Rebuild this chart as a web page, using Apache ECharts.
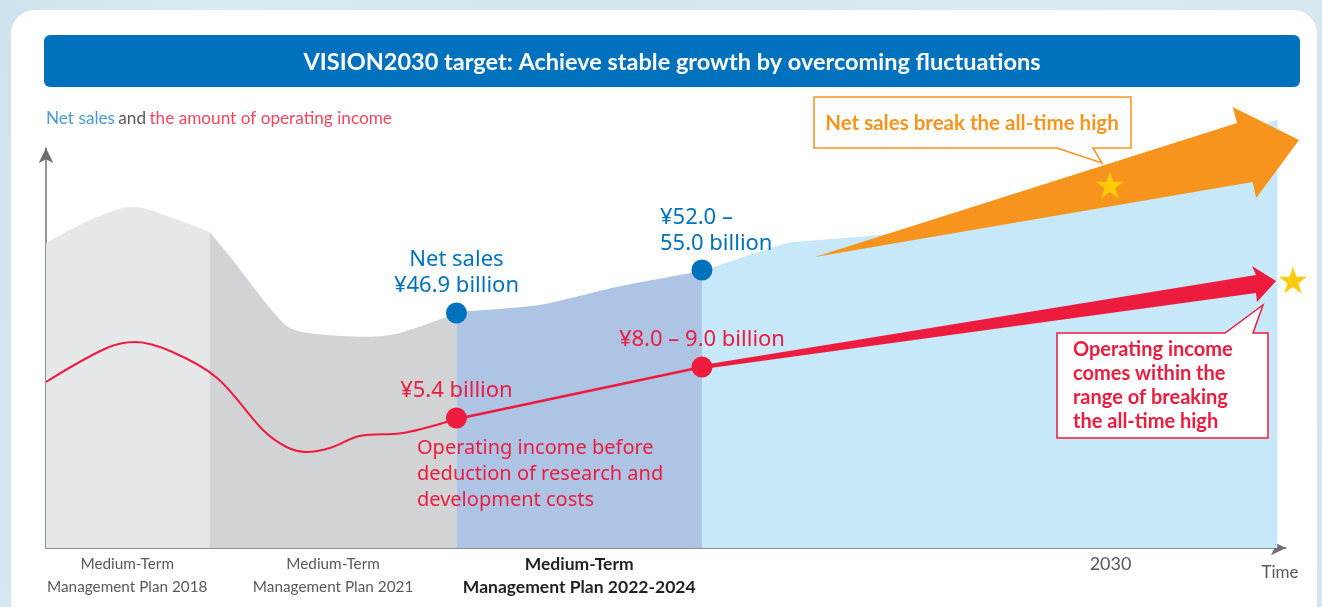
<!DOCTYPE html>
<html>
<head>
<meta charset="utf-8">
<script src="https://cdn.jsdelivr.net/npm/echarts@6/dist/echarts.min.js"></script>
<style>
html,body{margin:0;padding:0;}
body{background:linear-gradient(100deg,#cfe3ec 0%,#d9ecf2 15%,#d3e5ed 40%,#dceaf1 70%,#d5e6ee 100%);}
#chart{width:1322px;height:607px;}
</style>
</head>
<body>
<div id="chart"></div>
<script>
// ---- data (x: time index 0..100, y: relative level 0..100) ----
const periodLabels = ['Medium-Term\nManagement Plan 2018', 'Medium-Term\nManagement Plan 2021', 'Medium-Term\nManagement Plan 2022-2024', '2030'];
const periodPos = [6.55, 23.15, 43.0, 85.85];

const sales2018 = [[0, 76.25], [4.1, 82.75], [7.0, 85.25], [10.0, 82.75], [13.2, 79]];
const sales2021 = [[13.2, 79], [14.8, 73], [19.2, 56], [21.0, 53.8], [26.0, 52.8], [28.6, 53.8], [33.1, 58.75]];
const sales2024 = [[33.1, 59], [39.8, 60.75], [46.0, 65.25], [52.9, 69.25]];
const salesVision = [[52.9, 69.25], [59.8, 76.25], [62.4, 77], [68.6, 79], [99.3, 107]];

const incomeHistory = [[0, 41.5], [4.9, 50], [7.2, 51.5], [10.2, 49], [13.8, 42.5], [17.5, 29.5], [19.4, 25.25], [21.0, 24], [22.9, 25], [25.3, 28], [28.8, 28.75], [33.1, 32.25]];
const incomePlan = [[33.1, 32.25], [52.9, 45.25]];

const salesPoints = [[33.1, 58.75], [52.9, 69.5]];
const salesLabels = ['Net sales\n¥46.9 billion', '¥52.0 –\n55.0 billion'];
const incomePoints = [[33.1, 32.5], [52.9, 45.25]];
const incomeLabels = ['¥5.4 billion', '¥8.0 – 9.0 billion'];

const salesArrow = [[62.0, 72.75], [96.05, 106.25], [95.7, 110.25], [101.05, 102], [97.6, 87.5], [97.3, 91.5]];
const incomeArrow = [[52.98, 45.75], [97.58, 68.25], [97.26, 70.5], [99.2, 66.75], [97.66, 61.5], [97.58, 63.75], [52.98, 44.75]];
const starPoints = [[85.8, 90.75], [100.56, 67]];

// ---- styles ----
const RED = '#ED1B3E', BLUE = '#0071BC', ORANGE = '#F7941D';
const STAR = 'path://M50,0 L61.8,35.1 L98.8,35.1 L68.9,56.9 L80.3,91.9 L50,70.2 L19.7,91.9 L31.1,56.9 L1.2,35.1 L38.2,35.1 Z';
const LABEL_FONT = '"Noto Sans", sans-serif';
const UI_FONT = 'Lato, "Open Sans", sans-serif';

function areaSeries(data, color, smooth, extra) {
  return Object.assign({
    type: 'line', data: data, smooth: smooth, showSymbol: false, z: 2,
    lineStyle: { width: 0 }, areaStyle: { color: color, opacity: 1 }, silent: true
  }, extra || {});
}
function polySeries(poly, color, z) {
  return {
    type: 'custom', z: z, silent: true, data: [poly[0]],
    renderItem: function (params, api) {
      return { type: 'polygon', shape: { points: poly.map(p => api.coord(p)) }, style: { fill: color } };
    }
  };
}

const chart = echarts.init(document.getElementById('chart'), null, { renderer: 'canvas' });
const option = {
  animation: false,
  grid: { left: 46, right: 36, top: 148, bottom: 59 },
  xAxis: {
    type: 'value', min: 0, max: 100,
    splitLine: { show: false }, axisTick: { show: false },
    axisLine: { lineStyle: { color: '#6D6E71', width: 1.5 }, symbol: ['none', 'arrow'], symbolSize: [11, 15] },
    name: 'Time', nameLocation: 'end', nameGap: -6,
    nameTextStyle: { color: '#58595B', fontFamily: UI_FONT, fontSize: 17, align: 'center', verticalAlign: 'top', padding: [16, 0, 0, 0] },
    axisLabel: {
      customValues: periodPos, margin: 5, interval: 0,
      formatter: function (v) {
        const i = periodPos.indexOf(v);
        const t = periodLabels[i] || '';
        const st = i === 2 ? 'b' : (i === 3 ? 'y' : 'n');
        return t.split('\n').map(s => '{' + st + '|' + s + '}').join('\n');
      },
      rich: {
        n: { color: '#58595B', fontFamily: UI_FONT, fontSize: 15.3, lineHeight: 23 },
        y: { color: '#58595B', fontFamily: UI_FONT, fontSize: 18, lineHeight: 23 },
        b: { color: '#231F20', fontFamily: UI_FONT, fontSize: 17.5, fontWeight: 'bold', lineHeight: 23 }
      }
    }
  },
  yAxis: {
    type: 'value', min: 0, max: 100,
    splitLine: { show: false }, axisTick: { show: false }, axisLabel: { show: false },
    axisLine: { show: true, lineStyle: { color: '#6D6E71', width: 1.5 }, symbol: ['none', 'arrow'], symbolSize: [11, 15] },
    name: '{a|Net sales} {b|and} {c|the amount of operating income}',
    nameLocation: 'end', nameGap: 30,
    nameTextStyle: {
      align: 'left', verticalAlign: 'middle',
      rich: {
        a: { color: '#4A9BD6', fontFamily: UI_FONT, fontSize: 17.2 },
        b: { color: '#58595B', fontFamily: UI_FONT, fontSize: 17.2 },
        c: { color: '#EF4760', fontFamily: UI_FONT, fontSize: 17.2 }
      }
    }
  },
  series: [
    areaSeries(sales2018, '#E6E7E8', 0.35),
    areaSeries(sales2021, '#D1D3D4', 0.3),
    areaSeries(sales2024, '#AEC4E4', 0.2),
    areaSeries(salesVision, '#C6E8F8', 0.2, { clip: false }),
    { type: 'line', data: incomeHistory, smooth: 0.35, showSymbol: false, z: 3, silent: true, lineStyle: { color: RED, width: 2 } },
    { type: 'line', data: incomePlan, smooth: false, showSymbol: false, z: 3, silent: true, lineStyle: { color: RED, width: 2.5 } },
    polySeries(salesArrow, ORANGE, 4),
    polySeries(incomeArrow, RED, 4),
    {
      type: 'scatter', z: 6, symbol: 'circle', symbolSize: 21, silent: true,
      itemStyle: { color: BLUE, opacity: 1 },
      data: salesPoints.map((p, i) => ({
        value: p,
        label: i === 0
          ? { show: true, position: 'top', distance: 4, formatter: salesLabels[i], align: 'center' }
          : { show: true, position: 'top', distance: 3, formatter: salesLabels[i], align: 'left', offset: [-42, 0] }
      })),
      label: { color: BLUE, fontFamily: LABEL_FONT, fontSize: 22, lineHeight: 26 }
    },
    {
      type: 'scatter', z: 6, symbol: 'circle', symbolSize: 21, silent: true,
      itemStyle: { color: RED, opacity: 1 },
      data: incomePoints.map((p, i) => ({ value: p, label: { show: true, position: 'top', distance: 4, formatter: incomeLabels[i] } })),
      label: { color: RED, fontFamily: LABEL_FONT, fontSize: 22, lineHeight: 26 }
    },
    {
      type: 'scatter', z: 7, symbol: STAR, symbolSize: [28, 27], silent: true, clip: false,
      itemStyle: { color: '#FFCB08', opacity: 1 }, data: starPoints
    }
  ],
  graphic: [
    { type: 'rect', z: -10, shape: { x: 11, y: 10, width: 1306, height: 620, r: 24 }, style: { fill: '#ffffff' } },
    { type: 'rect', z: 1, shape: { x: 44, y: 35, width: 1256, height: 52, r: 6 }, style: { fill: '#0071BC' } },
    { type: 'text', z: 2, x: 672, y: 62, style: { text: 'VISION2030 target: Achieve stable growth by overcoming fluctuations', fill: '#ffffff', font: 'bold 23.5px Lato, sans-serif', align: 'center', verticalAlign: 'middle' } },
    { type: 'polygon', z: 100, shape: { points: [[814, 97], [1131, 97], [1131, 148], [1093, 148], [1102, 163], [1057, 148], [814, 148]] }, style: { fill: '#ffffff', stroke: ORANGE, lineWidth: 1.5 } },
    { type: 'text', z: 101, x: 972, y: 123, style: { text: 'Net sales break the all-time high', fill: ORANGE, font: 'bold 20.5px Lato, sans-serif', align: 'center', verticalAlign: 'middle' } },
    { type: 'polygon', z: 100, shape: { points: [[1057, 333], [1225, 333], [1263, 305], [1253, 333], [1268, 333], [1268, 438], [1057, 438]] }, style: { fill: '#ffffff', stroke: RED, lineWidth: 1.5 } },
    { type: 'text', z: 101, x: 1073, y: 338, style: { text: 'Operating income\ncomes within the\nrange of breaking\nthe all-time high', fill: RED, font: 'bold 20px Lato, sans-serif', lineHeight: 24, align: 'left', verticalAlign: 'top' } },
    { type: 'text', z: 101, x: 417, y: 435, style: { text: 'Operating income before\ndeduction of research and\ndevelopment costs', fill: RED, font: '20px "Noto Sans", sans-serif', lineHeight: 26, align: 'left', verticalAlign: 'top' } }
  ]
};
chart.setOption(option);
</script>
</body>
</html>
